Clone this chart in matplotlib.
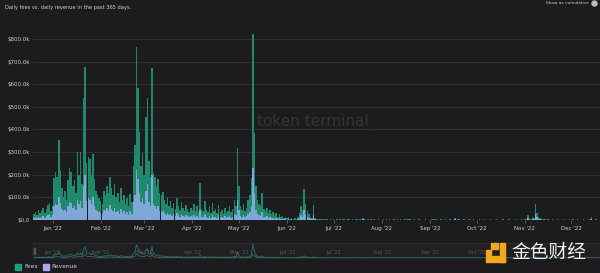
import matplotlib
matplotlib.use("Agg")
import matplotlib.pyplot as plt
import matplotlib.patches as mpatches
import numpy as np
import pandas as pd

# ---------------- data (values in $k) ----------------
start_date = "2021-12-20"
n_days = 365

fees_dec21 = [25, 35, 20, 45, 30, 40, 55, 30, 50, 65, 75, 40]
fees_jan = [60, 185, 210, 190, 354, 220, 140, 100, 130, 90, 175, 230, 210, 150, 175, 120,
            300, 200, 300, 160, 540, 677, 250, 280, 270, 200, 290, 180, 130, 110, 95]
fees_feb = [85, 70, 130, 110, 150, 120, 190, 140, 110, 160, 100, 120, 80, 140, 90, 110,
            70, 95, 60, 115, 80, 240, 330, 765, 584, 390, 240, 296]
fees_mar = [200, 456, 540, 260, 190, 673, 208, 190, 150, 180, 120, 110, 124, 90, 70, 100,
            60, 85, 55, 75, 50, 95, 60, 45, 80, 55, 40, 65, 50, 35, 55]
fees_apr = [45, 70, 40, 60, 35, 164, 50, 40, 85, 45, 35, 60, 30, 75, 40, 50, 30, 65, 35, 45,
            28, 55, 30, 40, 60, 35, 50, 90, 60, 318]
fees_may = [150, 60, 45, 70, 40, 55, 90, 110, 186, 820, 385, 150, 90, 70, 60, 119, 50, 40,
            55, 30, 45, 25, 35, 20, 30, 15, 25, 12, 18, 10, 14]
fees_jun = [8, 12, 6, 10, 5, 7, 4, 15, 30, 60, 45, 137, 70, 40, 25, 15, 10, 66, 8, 5, 4, 3,
            5, 3, 2, 4, 3, 2, 3, 2]
fees_jul = [3, 2, 4, 2, 3, 2, 5, 3, 2, 4, 3, 2, 3, 2, 4, 3, 2, 3, 2, 8, 3, 2, 4, 2, 3, 2, 3,
            2, 2, 3, 2]
fees_aug = [2, 3, 2, 4, 2, 3, 2, 2, 3, 2, 4, 2, 3, 2, 2, 3, 2, 6, 3, 2, 2, 3, 2, 2, 3, 2, 2,
            2, 3, 2, 2]
fees_sep = [2, 3, 6, 4, 3, 2, 2, 3, 2, 2, 3, 2, 2, 3, 2, 2, 10, 2, 4, 3, 2, 2, 3, 2, 2, 3, 2,
            2, 3, 2]
fees_oct = [2, 2, 3, 2, 2, 3, 2, 2, 2, 3, 2, 2, 2, 3, 2, 2, 2, 3, 2, 2, 2, 3, 2, 2, 2, 3, 2,
            2, 2, 3, 2]
fees_nov = [4, 3, 22, 6, 4, 15, 10, 71, 30, 12, 8, 6, 4, 3, 2, 3, 2, 2, 3, 2, 2, 3, 2, 2, 2,
            3, 2, 2, 2, 3]
fees_dec22 = [2, 3, 2, 2, 3, 2, 2, 2, 3, 2, 2, 2, 3, 12, 2, 2, 3, 2, 2]

rev_dec21 = [8, 12, 7, 15, 10, 14, 18, 10, 17, 22, 28, 15]
rev_jan = [20, 60, 70, 65, 100, 75, 50, 40, 45, 35, 60, 80, 75, 55, 60, 45, 90, 70, 85, 55,
           150, 200, 85, 95, 90, 70, 100, 60, 45, 40, 35]
rev_feb = [30, 25, 45, 40, 55, 40, 65, 50, 40, 55, 35, 40, 28, 50, 30, 40, 25, 35, 20, 40,
           28, 80, 110, 220, 180, 120, 80, 95]
rev_mar = [70, 130, 160, 80, 60, 200, 70, 60, 50, 60, 40, 35, 40, 30, 22, 32, 20, 28, 18, 25,
           16, 30, 20, 15, 26, 18, 13, 22, 16, 12, 18]
rev_apr = [14, 22, 12, 18, 11, 45, 15, 12, 25, 14, 11, 18, 9, 22, 12, 15, 9, 20, 11, 14, 9,
           17, 9, 12, 18, 11, 15, 28, 20, 88]
rev_may = [45, 18, 14, 22, 12, 17, 28, 35, 60, 230, 120, 45, 28, 22, 18, 35, 15, 12, 17, 9,
           14, 8, 11, 6, 9, 5, 8, 4, 6, 3, 4]
rev_jun = [2, 4, 2, 3, 1, 2, 1, 5, 10, 20, 15, 45, 22, 13, 8, 5, 3, 20, 3, 2, 1, 1, 2, 1, 1,
           1, 1, 1, 1, 1]
rev_jul = [1, 1, 2, 1, 1, 1, 2, 1, 1, 2, 1, 1, 1, 1, 2, 1, 1, 1, 1, 3, 1, 1, 2, 1, 1, 1, 1,
           1, 1, 1, 1]
rev_aug = [1, 1, 1, 2, 1, 1, 1, 1, 1, 1, 2, 1, 1, 1, 1, 1, 1, 2, 1, 1, 1, 1, 1, 1, 1, 1, 1,
           1, 1, 1, 1]
rev_sep = [1, 1, 2, 2, 1, 1, 1, 1, 1, 1, 1, 1, 1, 1, 1, 1, 4, 1, 2, 1, 1, 1, 1, 1, 1, 1, 1,
           1, 1, 1]
rev_oct = [1, 1, 1, 1, 1, 1, 1, 1, 1, 1, 1, 1, 1, 1, 1, 1, 1, 1, 1, 1, 1, 1, 1, 1, 1, 1, 1,
           1, 1, 1, 1]
rev_nov = [2, 1, 9, 2, 2, 6, 4, 28, 12, 5, 3, 2, 2, 1, 1, 1, 1, 1, 1, 1, 1, 1, 1, 1, 1, 1, 1,
           1, 1, 1]
rev_dec22 = [1, 1, 1, 1, 1, 1, 1, 1, 1, 1, 1, 1, 1, 5, 1, 1, 1, 1, 1]

month_labels = ["Jan '22", "Feb '22", "Mar '22", "Apr '22", "May '22", "Jun '22",
                "Jul '22", "Aug '22", "Sep '22", "Oct '22", "Nov '22", "Dec '22"]
y_ticks = [0, 100, 200, 300, 400, 500, 600, 700, 800]
y_tick_labels = ["$0.0", "$100.0k", "$200.0k", "$300.0k", "$400.0k", "$500.0k",
                 "$600.0k", "$700.0k", "$800.0k"]

fees = np.array(fees_dec21 + fees_jan + fees_feb + fees_mar + fees_apr + fees_may + fees_jun
                + fees_jul + fees_aug + fees_sep + fees_oct + fees_nov + fees_dec22, float)
revenue = np.array(rev_dec21 + rev_jan + rev_feb + rev_mar + rev_apr + rev_may + rev_jun
                   + rev_jul + rev_aug + rev_sep + rev_oct + rev_nov + rev_dec22, float)
assert len(fees) == n_days and len(revenue) == n_days

dates = pd.date_range(start_date, periods=n_days, freq="D")
x = np.arange(n_days)
month_pos = [i for i, d in enumerate(dates) if d.day == 1][:12]

# ---------------- style ----------------
BG = "#1c1c1e"
GRID = "#2f2f31"
FEES_C = "#1f8a6b"
REV_C = "#80a7d8"
TXT = "#d0d0d0"

plt.rcParams['font.family'] = ['DejaVu Sans']
fig = plt.figure(figsize=(6.0, 2.73), dpi=100, facecolor=BG)

ax = fig.add_axes([0.055, 1 - 220 / 273, 0.945, 187 / 273])
ax.set_facecolor(BG)
ax.bar(x, fees, width=0.97, color=FEES_C, linewidth=0, zorder=2)
ax.bar(x, revenue, width=0.97, color=REV_C, linewidth=0, zorder=3)
ax.set_xlim(-0.6, 364.5)
ax.set_ylim(0, 826)
ax.set_yticks(y_ticks)
ax.set_yticklabels(y_tick_labels)
ax.set_xticks(month_pos)
ax.set_xticklabels(month_labels)
ax.grid(axis="y", color=GRID, linewidth=0.8, zorder=0)
ax.tick_params(axis="y", length=0, labelsize=4.0, colors=TXT, pad=2.5)
ax.tick_params(axis="x", length=2.5, width=0.6, color="#666", labelsize=4.0,
               colors=TXT, pad=1.5)
for s in ax.spines.values():
    s.set_visible(False)
ax.text(0.5, 0.525, "token terminal_", transform=ax.transAxes, ha="center",
        va="center", fontsize=11, color="#333335", fontweight="normal",
        family=["DejaVu Sans"], zorder=1)

# title & toggle
fig.text(5 / 600, 1 - 7 / 273, "Daily fees vs. daily revenue in the past 365 days.",
         fontsize=3.7, color=TXT, ha="left", va="center")
fig.text(589 / 600, 1 - 3.5 / 273, "Show as cumulative", fontsize=3.1, color=TXT,
         ha="right", va="center")
fig.patches.append(mpatches.Ellipse((594.5 / 600, 1 - 3.5 / 273), 5 / 600, 5 / 273,
                                    transform=fig.transFigure, color="#bbbbbb"))

# navigator
nav = fig.add_axes([0.055, 1 - 258 / 273, 0.945, 15 / 273])
nav.set_facecolor("#202022")
nav.plot(x, fees, color="#1e7a60", linewidth=0.6)
nav.plot(x, revenue, color="#4a6c80", linewidth=0.5)
nav.set_xlim(-0.6, 364.5)
nav.set_ylim(0, 880)
nav.set_xticks([])
nav.set_yticks([])
for s in nav.spines.values():
    s.set_color("#2c2c2e")
    s.set_linewidth(0.6)
for p, lab in zip(month_pos[:10], month_labels[:10]):
    nav.text(p, 0.35, lab, transform=nav.get_xaxis_transform(), fontsize=3.4,
             color="#5a5a5c", ha="center", va="center")
nav.add_patch(mpatches.Rectangle((-0.5, 0.3), 1.5, 0.4, transform=nav.get_xaxis_transform(),
                                 color="#555", clip_on=False))

# legend
fig.patches.append(mpatches.Rectangle((15 / 600, 1 - 270 / 273), 6 / 600, 6 / 273,
                                      transform=fig.transFigure, color="#1fa07c"))
fig.text(24 / 600, 1 - 267 / 273, "Fees", fontsize=4.2, color=TXT, ha="left", va="center")
fig.patches.append(mpatches.Rectangle((43 / 600, 1 - 270 / 273), 6 / 600, 6 / 273,
                                      transform=fig.transFigure, color="#aaa6f0"))
fig.text(51 / 600, 1 - 267 / 273, "Revenue", fontsize=4.2, color=TXT, ha="left", va="center")

# 金色财经 watermark
Y = "#f0a81c"
for (lx, ly, w, h) in [(491, 243, 7, 6), (500, 243, 5, 19),
                       (486, 256, 19, 6), (486, 250, 5, 5)]:
    fig.patches.append(mpatches.Rectangle((lx / 600, 1 - (ly + h) / 273), w / 600, h / 273,
                                          transform=fig.transFigure, color=Y))
fig.text(549 / 600, 1 - 252 / 273, "金色财经", fontsize=13.5, color="#f2f2f2",
         ha="center", va="center", family=["Noto Sans CJK SC", "DejaVu Sans"])

fig.savefig("out.png", dpi=100, facecolor=BG)
